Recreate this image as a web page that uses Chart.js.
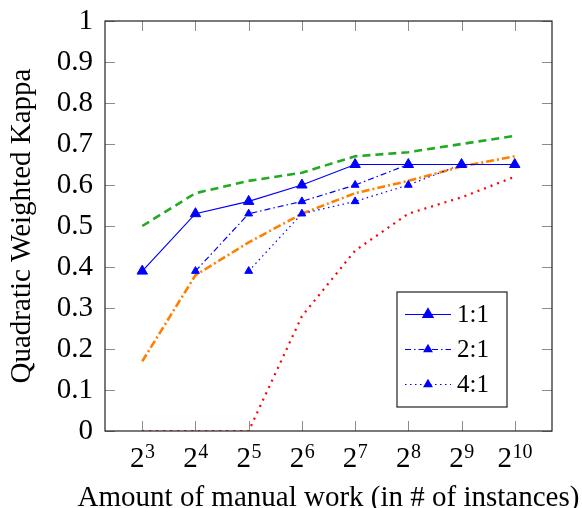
<!DOCTYPE html>
<html>
<head>
<meta charset="utf-8">
<script src="https://cdn.jsdelivr.net/npm/chart.js@4.4.0/dist/chart.umd.min.js"></script>
<style>
html, body { margin: 0; padding: 0; background: #fff; }
</style>
</head>
<body>
<canvas id="myChart" width="582" height="508"></canvas>
<script>
var exponents = [3, 4, 5, 6, 7, 8, 9, 10];
var yTicks = [0, 0.1, 0.2, 0.3, 0.4, 0.5, 0.6, 0.7, 0.8, 0.9, 1];
var xTitle = "Amount of manual work (in # of instances)";
var yTitle = "Quadratic Weighted Kappa";

// blue series with triangle marks (in the legend)
var ratio11 = [0.39, 0.53, 0.56, 0.60, 0.65, 0.65, 0.65, 0.65];
var ratio21 = [null, 0.39, 0.53, 0.56, 0.60, 0.65, 0.65, 0.65];
var ratio41 = [null, null, 0.39, 0.53, 0.56, 0.60, 0.65, 0.65];

// unmarked comparison lines
var greenVals = [0.50, 0.58, 0.61, 0.63, 0.67, 0.68, 0.70, 0.72];
var orangeVals = [0.17, 0.38, 0.46, 0.53, 0.58, 0.61, 0.645, 0.67];
var redVals = [0, 0, 0, 0.28, 0.44, 0.53, 0.57, 0.62];

var serif = "'Liberation Serif', 'Times New Roman', serif";

function pts(vals) {
    return exponents.map(function (e, i) { return {x: e, y: vals[i]}; });
}

var framePlugin = {
    id: 'frame',
    afterDraw: function (chart) {
        var ctx = chart.ctx;
        var a = chart.chartArea;
        var xs = chart.scales.x, ys = chart.scales.y;
        var tl = 10;
        ctx.save();
        ctx.strokeStyle = '#8c8c8c';
        ctx.lineWidth = 1;
        ctx.beginPath();
        xs.ticks.forEach(function (t) {
            var px = Math.round(xs.getPixelForValue(t.value)) + 0.5;
            ctx.moveTo(px, a.bottom); ctx.lineTo(px, a.bottom - tl);
            ctx.moveTo(px, a.top); ctx.lineTo(px, a.top + tl);
        });
        ys.ticks.forEach(function (t) {
            var py = Math.round(ys.getPixelForValue(t.value)) + 0.5;
            ctx.moveTo(a.left, py); ctx.lineTo(a.left + tl, py);
            ctx.moveTo(a.right, py); ctx.lineTo(a.right - tl, py);
        });
        ctx.stroke();
        ctx.strokeStyle = '#222';
        ctx.lineWidth = 1.2;
        ctx.strokeRect(a.left, a.top, a.right - a.left, a.bottom - a.top);

        // x tick labels as 2 with a raised exponent
        ctx.fillStyle = '#000';
        ctx.textBaseline = 'alphabetic';
        xs.ticks.forEach(function (t) {
            var px = xs.getPixelForValue(t.value);
            var base = '2', exp = String(t.value);
            ctx.font = '29px ' + serif;
            var wb = ctx.measureText(base).width;
            ctx.font = '20px ' + serif;
            var we = ctx.measureText(exp).width;
            var x0 = px - (wb + we) / 2;
            ctx.font = '29px ' + serif;
            ctx.textAlign = 'left';
            ctx.fillText(base, x0, a.bottom + 36);
            ctx.font = '20px ' + serif;
            ctx.fillText(exp, x0 + wb + 0.5, a.bottom + 26.5);
        });

        // x axis title (drawn here so it is not squeezed to the plot width)
        ctx.font = '29px ' + serif;
        ctx.textAlign = 'center';
        ctx.fillText(xTitle, (a.left + a.right) / 2, a.bottom + 74.5);

        // legend box in the lower right of the plot
        var bx = a.right - 155, by = a.bottom - 139, bw = 110, bh = 115;
        ctx.fillStyle = '#fff';
        ctx.fillRect(bx, by, bw, bh);
        ctx.strokeStyle = '#222';
        ctx.lineWidth = 1.2;
        ctx.strokeRect(bx, by, bw, bh);
        [0, 1, 2].forEach(function (i) {
            var ds = chart.data.datasets[i];
            var cy = by + 22.5 + i * 35;
            ctx.strokeStyle = ds.borderColor;
            ctx.lineWidth = ds.borderWidth;
            ctx.setLineDash(ds.borderDash || []);
            ctx.beginPath();
            ctx.moveTo(bx + 8, cy); ctx.lineTo(bx + 54, cy);
            ctx.stroke();
            ctx.setLineDash([]);
            Chart.helpers.drawPoint(ctx, {
                pointStyle: 'triangle', radius: ds.pointRadius, borderWidth: 1, rotation: 0
            }, bx + 31, cy);
            ctx.fillStyle = ds.pointBackgroundColor;
            ctx.fill();
            ctx.fillStyle = '#000';
            ctx.font = '25px ' + serif;
            ctx.textAlign = 'left';
            ctx.textBaseline = 'middle';
            ctx.fillText(ds.label, bx + 60, cy + 1);
        });
        ctx.restore();
    }
};

new Chart("myChart", {
    type: "line",
    data: {
        datasets: [{
                label: "1:1",
                data: pts(ratio11),
                borderColor: "#0000ff",
                borderWidth: 1.2,
                pointStyle: "triangle",
                pointRadius: 6,
                pointBackgroundColor: "#0000ff",
                pointBorderColor: "#0000ff",
                pointBorderWidth: 1
            }, {
                label: "2:1",
                data: pts(ratio21),
                borderColor: "#0000ff",
                borderWidth: 1.2,
                borderDash: [6, 3, 1.5, 3],
                pointStyle: "triangle",
                pointRadius: 4.5,
                pointBackgroundColor: "#0000ff",
                pointBorderColor: "#0000ff",
                pointBorderWidth: 1
            }, {
                label: "4:1",
                data: pts(ratio41),
                borderColor: "#0000ff",
                borderWidth: 1.2,
                borderDash: [1.5, 3.5],
                pointStyle: "triangle",
                pointRadius: 4.5,
                pointBackgroundColor: "#0000ff",
                pointBorderColor: "#0000ff",
                pointBorderWidth: 1
            }, {
                label: "green",
                data: pts(greenVals),
                borderColor: "#22aa22",
                borderWidth: 2.6,
                borderDash: [8, 5],
                pointRadius: 0
            }, {
                label: "orange",
                data: pts(orangeVals),
                borderColor: "#ff8000",
                borderWidth: 2.6,
                borderDash: [8, 3, 2, 3],
                pointRadius: 0
            }, {
                label: "red",
                data: pts(redVals),
                borderColor: "#ff0000",
                borderWidth: 2.2,
                borderDash: [2, 5],
                pointRadius: 0
            }]
    },
    options: {
        responsive: false,
        animation: false,
        devicePixelRatio: 1,
        layout: {padding: {top: 21, right: 30, left: 0, bottom: 0}},
        elements: {line: {tension: 0}},
        plugins: {
            legend: {display: false},
            tooltip: {enabled: false}
        },
        scales: {
            x: {
                type: "linear",
                min: 2.3,
                max: 10.7,
                afterBuildTicks: function (s) {
                    s.ticks = exponents.map(function (e) { return {value: e}; });
                },
                afterFit: function (s) {
                    s.height = 77;
                    s.paddingLeft = 0; s.paddingRight = 0;
                },
                grid: {display: false},
                border: {display: false},
                ticks: {display: false}
            },
            y: {
                min: 0,
                max: 1,
                afterBuildTicks: function (s) {
                    s.ticks = yTicks.map(function (v) { return {value: v}; });
                },
                afterFit: function (s) {
                    s.width = 105;
                    s.paddingTop = 0; s.paddingBottom = 0;
                },
                grid: {display: false, drawTicks: false},
                border: {display: false},
                ticks: {
                    color: "#000",
                    padding: 12,
                    font: {family: serif, size: 29},
                    callback: function (v) {
                        return (v === 0 || v === 1) ? String(v) : v.toFixed(1);
                    }
                },
                title: {
                    display: true,
                    text: yTitle,
                    color: "#000",
                    font: {family: serif, size: 29},
                    padding: {top: 5, bottom: 0}
                }
            }
        }
    },
    plugins: [framePlugin]
});
</script>
</body>
</html>
